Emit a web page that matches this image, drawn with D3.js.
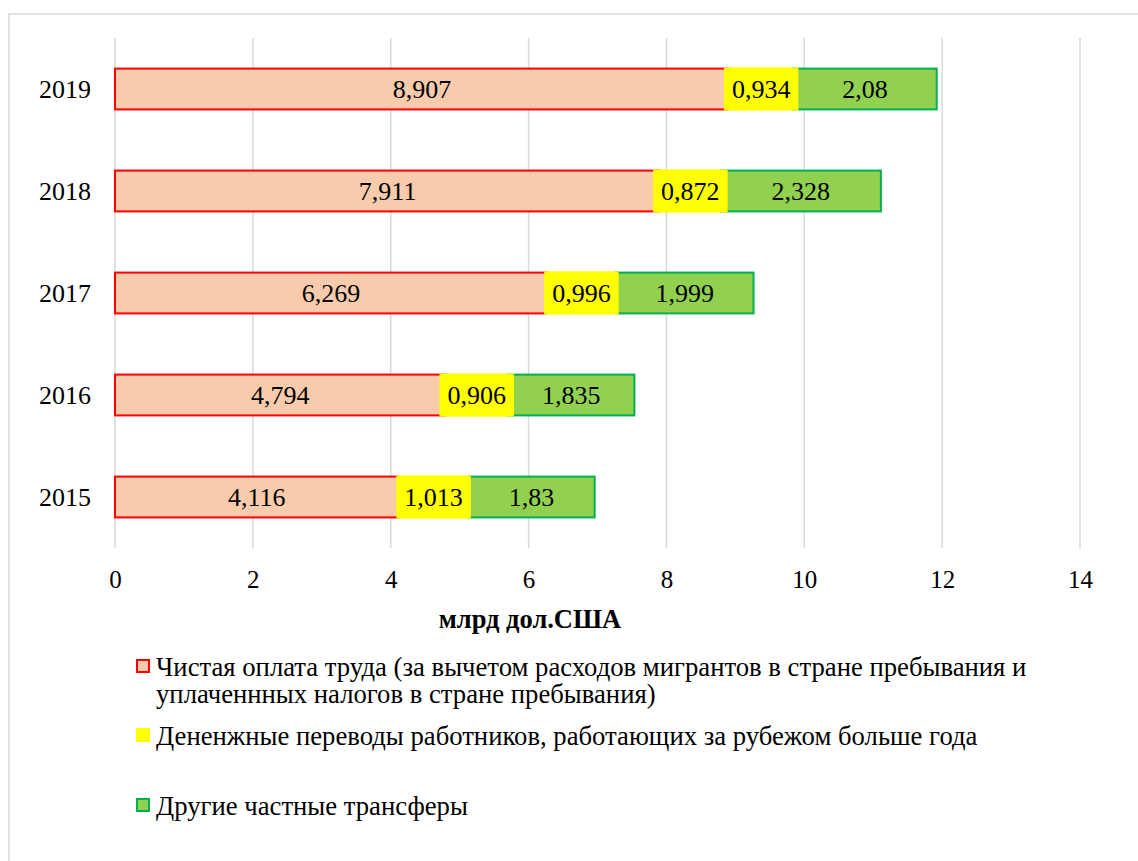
<!DOCTYPE html>
<html>
<head>
<meta charset="utf-8">
<script src="https://cdn.jsdelivr.net/npm/d3@7"></script>
<style>
  html, body { margin: 0; padding: 0; background: #fff; }
  svg { display: block; }
  svg text { fill: #000; }
</style>
</head>
<body>
<svg id="chart" width="1138" height="861"></svg>
<script>
// Years shown on the category axis (top to bottom)
const years = ["2019", "2018", "2017", "2016", "2015"];

// Series values, billions of USD, in the same order as years
const netWages   = [8.907, 7.911, 6.269, 4.794, 4.116];
const remittance = [0.934, 0.872, 0.996, 0.906, 1.013];
const otherTrans = [2.08, 2.328, 1.999, 1.835, 1.83];

// Axis ticks
const xTicks = [0, 2, 4, 6, 8, 10, 12, 14];

const seriesNames = [
  "Чистая оплата труда (за вычетом расходов мигрантов в стране пребывания и",
  "Дененжные переводы работников, работающих за рубежом больше года",
  "Другие частные трансферы"
];
const legendSecondLine = "уплаченнных налогов в стране пребывания)";
const axisTitle = "млрд дол.США";

const series = [
  { key: "wages", values: netWages,   fill: "#F8CBAD", stroke: "#FF0000" },
  { key: "remit", values: remittance, fill: "#FFFF00", stroke: "#FFFF00" },
  { key: "other", values: otherTrans, fill: "#92D050", stroke: "#00B050" }
];

const fmt = v => String(v).replace(".", ",");
const FONT = "'Liberation Serif', 'Times New Roman', serif";

const svg = d3.select("#chart");

// Outer chart frame
svg.append("rect")
  .attr("x", 9).attr("y", 14)
  .attr("width", 1160).attr("height", 880)
  .attr("fill", "none").attr("stroke", "#D9D9D9").attr("stroke-width", 1.5);

const x = d3.scaleLinear().domain([0, 14]).range([115, 1080]);
const y = d3.scaleBand().domain(years).range([38, 548]).paddingInner(0.6).paddingOuter(0.3);

// Vertical gridlines
svg.append("g").selectAll("line")
  .data(xTicks).join("line")
  .attr("x1", d => x(d)).attr("x2", d => x(d))
  .attr("y1", 38).attr("y2", 548)
  .attr("stroke", "#D9D9D9").attr("stroke-width", 1.5);

// Tick labels
const xAxis = d3.axisBottom(x).tickValues(xTicks).tickSize(0).tickPadding(0).tickFormat(d => d);
const gx = svg.append("g").attr("transform", "translate(0,570)").call(xAxis)
  .attr("font-family", FONT);
gx.select(".domain").remove();
gx.selectAll("text")
  .attr("font-size", 25).attr("fill", "#000").attr("dy", "0.71em");

// Category labels
const yAxis = d3.axisLeft(y).tickSize(0).tickPadding(24);
const gy = svg.append("g").attr("transform", "translate(115,0)").call(yAxis)
  .attr("font-family", FONT);
gy.select(".domain").remove();
gy.selectAll("text")
  .attr("font-size", 26).attr("fill", "#000").attr("dy", "0.35em");

// Stacked bar segments
const stacked = years.map((yr, i) => {
  let acc = 0;
  return series.map(s => {
    const v = s.values[i];
    const seg = { year: yr, x0: acc, x1: acc + v, v, s };
    acc += v;
    return seg;
  });
});

const barsG = svg.append("g");
stacked.forEach(row => {
  row.forEach(seg => {
    barsG.append("rect")
      .attr("x", x(seg.x0)).attr("y", y(seg.year))
      .attr("width", x(seg.x1) - x(seg.x0)).attr("height", y.bandwidth())
      .attr("fill", seg.s.fill).attr("stroke", seg.s.stroke).attr("stroke-width", 2);
  });
});

// Value labels (the yellow series carries a filled label box)
const labelG = svg.append("g").attr("font-family", FONT);
stacked.forEach(row => {
  row.forEach(seg => {
    const cx = (x(seg.x0) + x(seg.x1)) / 2;
    const cy = y(seg.year) + y.bandwidth() / 2;
    const t = labelG.append("text")
      .attr("x", cx).attr("y", cy).attr("dy", "0.36em")
      .attr("text-anchor", "middle").attr("font-size", 26)
      .text(fmt(seg.v));
    if (seg.s.key === "remit") {
      const w = t.node().getComputedTextLength() + 16;
      labelG.insert("rect", () => t.node())
        .attr("x", cx - w / 2).attr("y", y(seg.year) - 1)
        .attr("width", w).attr("height", y.bandwidth() + 2)
        .attr("fill", "#FFFF00");
    }
  });
});

// Axis title
svg.append("text")
  .attr("font-family", FONT)
  .attr("x", 530).attr("y", 628)
  .attr("text-anchor", "middle").attr("font-size", 26.5).attr("font-weight", "bold")
  .text(axisTitle);

// Legend
const legend = [
  { name: seriesNames[0], s: series[0], y: 676 },
  { name: seriesNames[1], s: series[1], y: 745 },
  { name: seriesNames[2], s: series[2], y: 815 }
];
const lg = svg.append("g").attr("font-family", FONT);
legend.forEach(item => {
  lg.append("rect")
    .attr("x", 137).attr("y", item.y - 16)
    .attr("width", 12).attr("height", 12)
    .attr("fill", item.s.fill).attr("stroke", item.s.stroke).attr("stroke-width", 2);
  lg.append("text")
    .attr("x", 156).attr("y", item.y)
    .attr("font-size", 26.7)
    .text(item.name);
});
lg.append("text")
  .attr("x", 156).attr("y", 703)
  .attr("font-size", 26.7)
  .text(legendSecondLine);
</script>
</body>
</html>
